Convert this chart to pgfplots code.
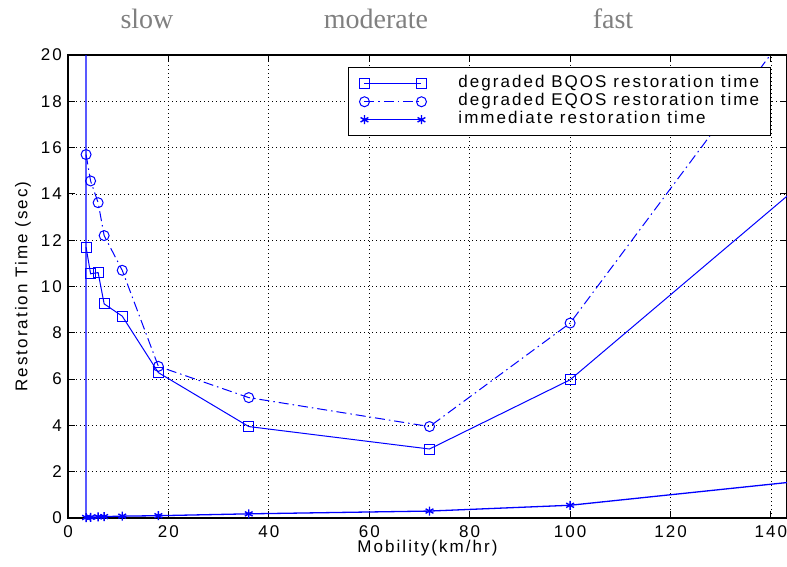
\documentclass[border=0pt]{standalone}
\usepackage{fontspec}
\setmainfont{Liberation Sans}[LetterSpace=12]
\newfontfamily\capfont{Liberation Serif}
\usepackage{pgfplots}
\pgfplotsset{compat=1.18}
\definecolor{mblue}{RGB}{0,0,255}
\definecolor{capgray}{RGB}{128,128,128}

\begin{document}
\begin{tikzpicture}[font=\fontsize{17}{20}\selectfont]
\begin{axis}[
  at={(0,0)}, anchor=south west,
  scale only axis, width=719pt, height=463pt,
  xmin=0, xmax=143.2, ymin=0, ymax=20,
  xtick={0,20,...,140}, ytick={0,2,...,20},
  grid=major,
  major grid style={black, line width=0.7pt, dash pattern=on 1pt off 3pt},
  axis line style={black, line width=1.2pt},
  tick style={black, line width=1pt}, major tick length=7pt, tick align=inside,
  /pgf/number format/assume math mode=true,
  xticklabel style={inner sep=0pt, anchor=north, yshift=-7pt},
  yticklabel style={inner sep=0pt, anchor=east, xshift=-6pt},
  xlabel={Mobility(km/hr)}, ylabel={Restoration Time (sec)},
  xlabel style={at={(axis description cs:0.5,-0.0648)}, anchor=center, inner sep=0pt},
  ylabel style={at={(axis description cs:-0.0626,0.5)}, anchor=center, inner sep=0pt},
  legend image code/.code={\draw[mark repeat=1,mark phase=1,#1] plot coordinates {(0pt,0pt) (57pt,0pt)};},
  legend cell align=left,
  legend style={at={(axis description cs:0.3894,0.9741)}, anchor=north west,
    draw=black, line width=1pt, fill=white, inner xsep=11pt, inner ysep=8pt,
    row sep=1.5pt,
    /tikz/every odd column/.append style={column sep=32pt},
    nodes={inner sep=0pt, text height=12.5pt, text depth=4pt, anchor=west}},
]
% degraded BQOS restoration time
\addplot[mblue, line width=1pt, mark=square, mark size=5pt, mark options={solid}]
  coordinates {(3.6,11.7) (4.5,10.55) (6,10.6) (7.2,9.25) (10.8,8.72) (18,6.28)
               (36,3.95) (72,2.98) (100,5.97) (144,14.05)};
\addlegendentry{degraded BQOS restoration time}
% degraded EQOS restoration time
\addplot[mblue, line width=1pt, dash pattern=on 10pt off 4pt on 1.5pt off 4pt,
         mark=o, mark size=5pt, mark options={solid}]
  coordinates {(3.6,15.7) (4.5,14.56) (6,13.62) (7.2,12.2) (10.8,10.7) (18,6.55)
               (36,5.2) (72,3.95) (100,8.42) (144,21.2)};
\addlegendentry{degraded EQOS restoration time}
% immediate restoration time
\addplot[mblue, line width=1.3pt, mark=asterisk, mark size=4.5pt,
         mark options={solid, line width=1.4pt}]
  coordinates {(3.6,40) (3.6,0.02) (4.5,0.03) (6,0.05) (7.2,0.06) (10.8,0.08)
               (18,0.1) (36,0.18) (72,0.3) (100,0.55) (144,1.55)};
\addlegendentry{immediate restoration time}
\end{axis}
\begin{scope}[text=capgray, font=\capfont\fontsize{28}{30}\selectfont]
  \node[anchor=base] at (79pt,489pt) {slow};
  \node[anchor=base] at (308pt,489pt) {moderate};
  \node[anchor=base] at (545pt,489pt) {fast};
\end{scope}
\pgfresetboundingbox
\path[use as bounding box] (-68pt,-48pt) rectangle (719pt,518pt);
\end{tikzpicture}
\end{document}
